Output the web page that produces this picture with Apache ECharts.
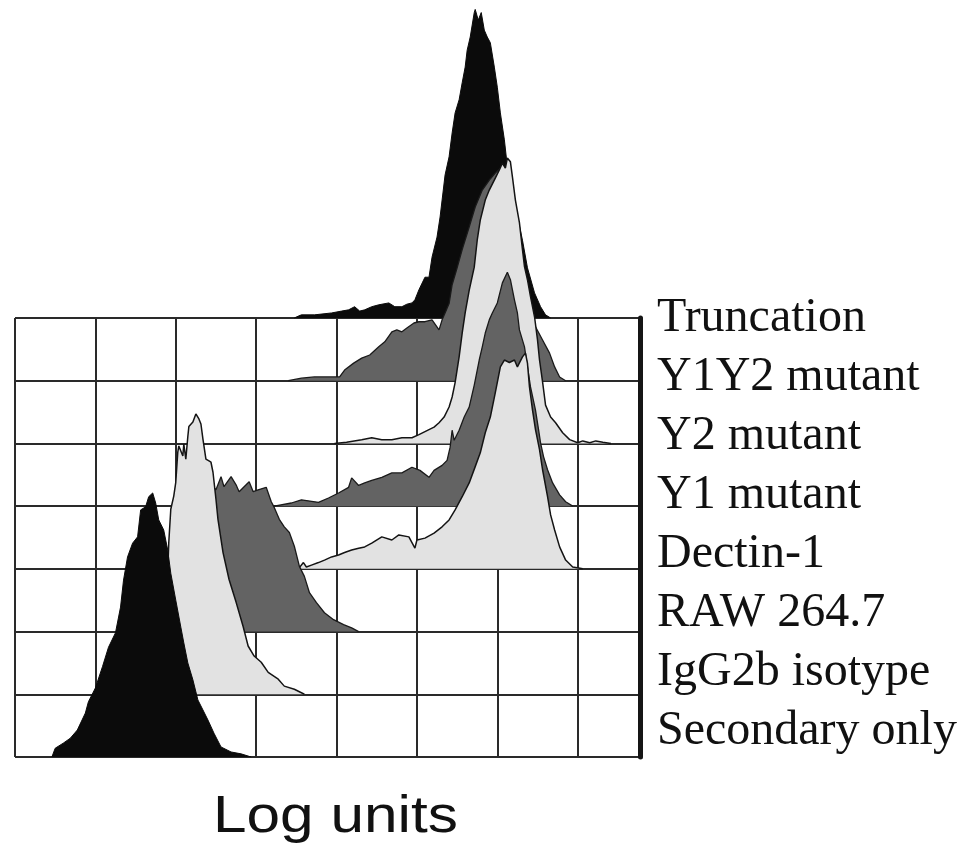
<!DOCTYPE html>
<html>
<head>
<meta charset="utf-8">
<script src="https://cdn.jsdelivr.net/npm/echarts@6/dist/echarts.min.js"></script>
<style>
html,body{margin:0;padding:0;background:#ffffff;}
#chart{width:969px;height:865px;}
</style>
</head>
<body>
<div id="chart"></div>
<script>
// Row labels, bottom row first
const rowLabels = ['Secondary only','IgG2b isotype','RAW 264.7','Dectin-1','Y1 mutant','Y2 mutant','Y1Y2 mutant','Truncation'];
const axisTitle = 'Log units';

// Histograms: [log-scale position (100 = one grid column), height above own baseline (10 = one grid row)]
const secondaryOnly = [[45.9,0],[50,1.4],[60,2.2],[68.8,3.0],[77.5,4.3],[87.5,7.0],[91.3,8.8],[100,11.0],[108.8,14.4],[116.3,17.5],[125,19.8],[131.3,23.9],[135,28.2],[140,31.9],[146.3,34.1],[152.5,35.1],[156.3,39.4],[162.5,39.9],[166.3,41.5],[171.3,42.1],[175,40.5],[178.8,37.8],[185,36.2],[190,33.0],[193.8,29.3],[200,25.0],[206.3,20.7],[210,18.2],[215,15.0],[221.3,12.3],[227.5,9.1],[233.8,7.5],[240,5.9],[247.5,3.8],[256.3,1.6],[268.8,0.8],[281.3,0.5],[293.8,0]];
const igg2bIsotype = [[181.3,0],[188.8,15.2],[191.3,24.2],[193.8,29.5],[197.5,31.6],[200,33.8],[202.5,38.6],[203.8,39.6],[208.8,38.0],[210,39.9],[212.5,37.5],[215,41.1],[216.3,42.7],[221.3,43.4],[225,44.7],[228.8,43.9],[231.3,43.1],[233.8,40.7],[237.5,37.5],[241.3,37.2],[243.8,37.0],[246.3,35.4],[250,31.1],[252.5,27.9],[258.8,22.6],[266.3,18.3],[275,14.7],[283.8,10.8],[290,7.7],[297.5,6.1],[306.3,5.1],[315,3.5],[327.5,2.4],[335,1.3],[347.5,0.8],[360,0]];
const raw2647 = [[212.5,0],[231.3,14.7],[243.8,23.4],[250,22.6],[256.3,24.7],[260,23.1],[268.8,24.7],[275,23.4],[278.8,22.3],[285,23.1],[291.3,23.9],[296.3,22.3],[302.5,22.6],[312.5,23.0],[318.8,20.7],[322.5,19.8],[328.8,17.9],[335,16.7],[341.3,15.8],[347.5,13.6],[353.8,10.4],[360,8.8],[366.3,6.2],[375,4.6],[385,3.0],[396.3,1.9],[408.8,1.1],[418.8,0.6],[427.5,0]];
const dectin1 = [[352.5,0],[358.8,1.0],[362.5,0.3],[368.8,0.6],[377.5,1.0],[385,1.4],[393.8,1.9],[402.5,2.2],[410,2.6],[418.8,3.0],[427.5,3.3],[435,3.5],[443.8,4.1],[456.3,5.1],[468.8,4.6],[477.5,5.4],[490,5.1],[497.5,3.3],[500,4.6],[510,4.9],[521.3,5.7],[531.3,6.7],[540,7.8],[547.5,9.4],[556.3,11.5],[565,13.7],[572.5,16.3],[578.8,18.5],[585,21.7],[591.3,24.2],[597.5,28.1],[603.8,32.2],[608.8,33.3],[615,32.9],[621.3,33.3],[625,32.2],[631.3,33.8],[635,34.4],[637.5,32.8],[640,29.0],[643.8,25.3],[647.5,22.2],[652.5,19.0],[656.3,15.8],[662.5,11.5],[666.3,8.6],[671.3,6.2],[677.5,3.5],[685,1.4],[693.8,0.3],[706.3,0]];
const y1Mutant = [[322.5,0],[343.8,0.5],[356.3,1.0],[377.5,0.6],[390,1.3],[402.5,2.1],[415,3.0],[418.8,4.5],[427.5,3.3],[435,3.7],[443.8,4.1],[456.3,4.6],[468.8,5.3],[481.3,5.3],[493.8,6.2],[503.8,5.7],[515,4.6],[521.3,5.7],[531.3,6.5],[537.5,7.3],[541.3,9.4],[543.8,12.1],[546.3,10.5],[552.5,12.1],[558.8,14.2],[565,15.8],[571.3,19.3],[577.5,23.3],[581.3,25.4],[585,27.6],[590,29.7],[593.8,30.8],[600,32.4],[606.3,35.6],[612.5,37.3],[616.3,36.1],[621.3,32.9],[625,30.8],[627.5,28.1],[633.8,25.4],[637.5,22.2],[641.3,19.0],[647.5,15.3],[651.3,12.2],[653.8,10.1],[657.5,7.9],[662.5,5.8],[668.8,3.7],[677.5,1.8],[685,0.7],[693.8,0]];
const y2Mutant = [[397.5,0],[412.5,0.2],[431.3,0.6],[443.8,0.9],[456.3,0.6],[468.8,0.6],[481.3,0.9],[493.8,0.9],[502.5,1.4],[515,2.2],[521.3,2.6],[527.5,3.3],[533.8,4.2],[540,5.8],[543.8,7.4],[547.5,9.7],[552.5,13.8],[556.3,17.6],[560,20.8],[565,24.4],[571.3,28.1],[575,32.4],[578.8,35.6],[585,38.8],[590,40.4],[597.5,42.3],[602.5,43.6],[606.3,44.7],[610,43.9],[612.5,45.5],[616.3,44.9],[618.8,42.5],[622.5,38.8],[627.5,35.2],[631.3,30.9],[633.8,28.2],[637.5,26.1],[641.3,23.4],[646.3,20.2],[650,16.5],[652.5,13.3],[656.3,9.8],[660,6.1],[666.3,4.2],[672.5,3.3],[681.3,1.7],[690,0.6],[700,0.1],[706.3,0.4],[715,0.1],[722.5,0.4],[731.3,0.2],[741.3,0]];
const y1y2Mutant = [[340,0],[356.3,0.4],[372.5,0.6],[390,0.6],[403.8,0.6],[410,1.7],[421.3,2.8],[431.3,3.6],[441.3,4.1],[452.5,5.4],[460,6.2],[468.8,7.8],[475,8.1],[481.3,7.8],[487.5,8.4],[496.3,9.2],[502.5,9.4],[510,9.4],[518.8,9.7],[527.5,8.1],[531.3,9.7],[535,10.8],[540,12.3],[543.8,15.3],[550,18.0],[556.3,20.9],[565,24.5],[572.5,27.7],[581.3,30.4],[590,32.0],[597.5,33.1],[603.8,33.9],[612.5,33.3],[621.3,28.8],[631.3,19.2],[637.5,14.4],[643.8,10.0],[647.5,8.6],[656.3,6.5],[665,4.4],[671.3,2.2],[677.5,0.6],[685,0]];
const truncation = [[347.5,0],[352.5,0.3],[356.3,0.5],[372.5,0.5],[393.8,0.8],[406.3,1.1],[415,1.3],[422.5,1.8],[428.8,1.1],[435,1.3],[443.8,1.8],[452.5,2.1],[465,2.4],[472.5,1.8],[481.3,1.8],[487.5,2.2],[493.8,2.4],[497.5,2.9],[502.5,4.5],[510,6.5],[515,6.5],[518.8,9.7],[525,12.9],[528.8,16.1],[535,22.8],[540,25.7],[543.8,29.5],[547.5,32.7],[552.5,34.8],[556.3,37.5],[560,40.0],[562.5,42.7],[566.3,44.8],[571.3,48.7],[572.5,49.2],[576.3,47.5],[580,48.7],[583.8,45.9],[587.5,44.8],[591.3,43.9],[596.3,40.0],[600,36.8],[603.8,32.7],[608.8,28.4],[613.8,22.6],[622.5,17.7],[631.3,12.4],[637.5,8.0],[646.3,4.0],[653.8,1.8],[660,0.5],[666.3,0]];

const BLACK = '#0b0b0b', DARK = '#636363', LIGHT = '#e2e2e2';
const GRIDLINE = '#2a2a2a';

// Back (top row) to front (bottom row)
const histos = [
  { data: truncation,    row: 7, fill: BLACK, line: BLACK, w: 1 },
  { data: y1y2Mutant,    row: 6, fill: DARK,  line: '#1a1a1a', w: 1.3 },
  { data: y2Mutant,      row: 5, fill: LIGHT, line: '#141414', w: 1.5 },
  { data: y1Mutant,      row: 4, fill: DARK,  line: '#1a1a1a', w: 1.3 },
  { data: dectin1,       row: 3, fill: LIGHT, line: '#141414', w: 1.5 },
  { data: raw2647,       row: 2, fill: DARK,  line: '#1a1a1a', w: 1.3 },
  { data: igg2bIsotype,  row: 1, fill: LIGHT, line: '#141414', w: 1.5 },
  { data: secondaryOnly, row: 0, fill: BLACK, line: BLACK, w: 1 }
];

const X_MAX = 777.5;
const chart = echarts.init(document.getElementById('chart'), null, { renderer: 'canvas' });

const series = histos.map((h, i) => ({
  type: 'line',
  xAxisIndex: 1,
  yAxisIndex: 1,
  z: 10 + i,
  data: h.data.map(p => [p[0], h.row * 10 + p[1]]),
  symbol: 'none',
  smooth: false,
  silent: true,
  lineStyle: { color: h.line, width: h.w },
  areaStyle: { color: h.fill, opacity: 1, origin: h.row * 10 }
}));

chart.setOption({
  animation: false,
  backgroundColor: '#ffffff',
  grid: [
    { left: 15, width: 625, top: 318, height: 439 },
    { left: 15, width: 625, top: 4.4, height: 752.6 },
    { left: 15, width: 625, top: 318.5, height: 413.3 }
  ],
  xAxis: [
    { gridIndex: 0, type: 'value', min: 0, max: X_MAX, interval: 100,
      axisLine: { show: false }, axisTick: { show: false }, axisLabel: { show: false },
      splitLine: { show: true, lineStyle: { color: GRIDLINE, width: 2 } } },
    { gridIndex: 1, type: 'value', min: 0, max: X_MAX, show: false },
    { gridIndex: 2, type: 'value', min: 0, max: 1, show: false }
  ],
  yAxis: [
    { gridIndex: 0, type: 'value', min: 0, max: 70, interval: 10, position: 'right',
      axisLine: { show: true, onZero: false, lineStyle: { color: '#151515', width: 5 } },
      axisTick: { show: false }, axisLabel: { show: false },
      splitLine: { show: true, lineStyle: { color: GRIDLINE, width: 2 } } },
    { gridIndex: 1, type: 'value', min: 0, max: 120, show: false },
    { gridIndex: 2, type: 'category', data: rowLabels, boundaryGap: false, position: 'right',
      axisLine: { show: false, onZero: false }, axisTick: { show: false }, splitLine: { show: false },
      axisLabel: { show: true, margin: 17, color: '#111111', fontFamily: '"Liberation Serif", "Times New Roman", serif',
        fontSize: 48, align: 'left', verticalAlign: 'middle', interval: 0 } }
  ],
  graphic: [
    { type: 'text', x: 213, y: 792, scaleX: 1.16, scaleY: 1,
      style: { text: axisTitle, font: '52px "Liberation Sans", Arial, sans-serif', fill: '#111111', verticalAlign: 'top' } }
  ],
  series: series
});
</script>
</body>
</html>
